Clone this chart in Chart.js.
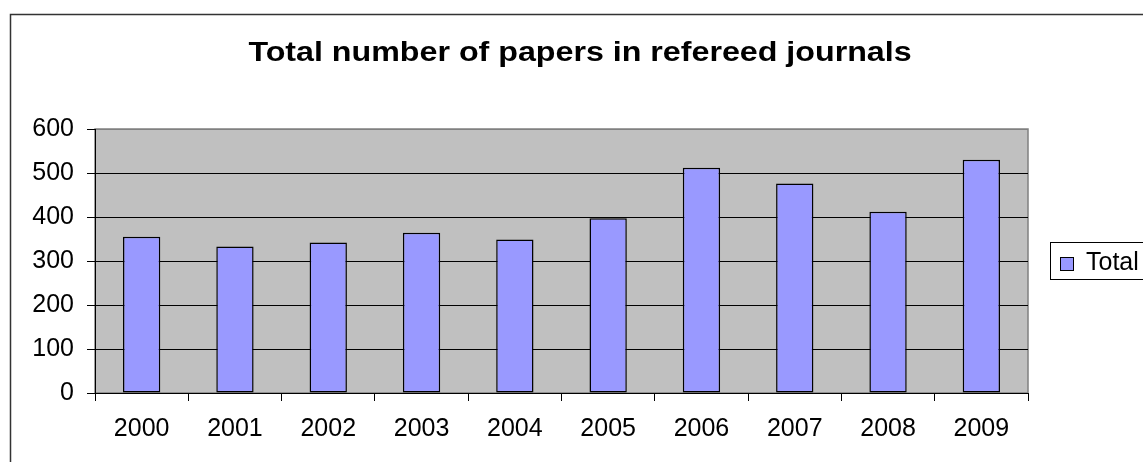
<!DOCTYPE html>
<html>
<head>
<meta charset="utf-8">
<title>Total number of papers in refereed journals</title>
<script src="https://cdn.jsdelivr.net/npm/chart.js@4"></script>
<style>
  body { margin: 0; background: #fff; }
  #wrap { width: 1143px; height: 462px; overflow: hidden; position: relative; }
  #wrap canvas { position: absolute; left: 0; top: 0; }
</style>
</head>
<body>
<div id="wrap">
  <canvas id="myChart" width="1160" height="480"></canvas>
</div>
<script>
const years = ["2000", "2001", "2002", "2003", "2004", "2005", "2006", "2007", "2008", "2009"];
const totals = [355, 333, 342, 364, 349, 397, 512, 476, 412, 530];
const yTicks = [0, 100, 200, 300, 400, 500, 600];
const chartTitle = "Total number of papers in refereed journals";
const seriesName = "Total";

const FONT = "'Liberation Sans', Arial, sans-serif";
const ctx = document.getElementById("myChart").getContext("2d");

// frame, plot background, title and the boxed legend on the right
const decor = {
  id: "decor",
  beforeDraw(chart) {
    const c = chart.ctx;
    const a = chart.chartArea;
    c.save();
    c.fillStyle = "#fff";
    c.fillRect(0, 0, chart.width, chart.height);
    c.strokeStyle = "#333";
    c.lineWidth = 1.5;
    c.strokeRect(10.5, 14.5, 1300, 600);
    c.fillStyle = "#c0c0c0";
    c.fillRect(a.left, a.top, a.right - a.left, a.bottom - a.top);
    c.strokeStyle = "#808080";
    c.lineWidth = 1.5;
    c.strokeRect(a.left, a.top, a.right - a.left, a.bottom - a.top);
    // title is set a little wide
    c.fillStyle = "#000";
    c.font = "bold 28px " + FONT;
    c.textAlign = "center";
    c.textBaseline = "alphabetic";
    c.translate(580, 61);
    c.scale(1.15, 1);
    c.fillText(chartTitle, 0, 0);
    c.restore();
  },
  afterDraw(chart) {
    const c = chart.ctx;
    const ds = chart.data.datasets[0];
    c.save();
    c.fillStyle = "#fff";
    c.fillRect(1050, 242, 140, 38);
    c.strokeStyle = "#000";
    c.lineWidth = 1;
    c.strokeRect(1050.5, 242.5, 140, 37);
    c.fillStyle = ds.backgroundColor;
    c.fillRect(1060.5, 257.5, 13, 13);
    c.strokeStyle = "#000";
    c.strokeRect(1060.5, 257.5, 13, 13);
    c.fillStyle = "#000";
    c.font = "25px " + FONT;
    c.textAlign = "left";
    c.textBaseline = "middle";
    c.fillText(ds.label, 1086, 263);
    c.restore();
  }
};

new Chart(ctx, {
  type: "bar",
  data: {
    labels: years,
    datasets: [{
      label: seriesName,
      data: totals,
      backgroundColor: "#9999ff",
      borderColor: "#000",
      borderWidth: 1.5,
      borderSkipped: false,
      barPercentage: 0.4,
      categoryPercentage: 1
    }]
  },
  options: {
    responsive: false,
    animation: false,
    events: [],
    layout: { padding: { top: 129, right: 132, left: 0, bottom: 0 } },
    plugins: {
      legend: { display: false },
      title: { display: false },
      tooltip: { enabled: false }
    },
    scales: {
      x: {
        offset: true,
        grid: {
          offset: true,
          drawOnChartArea: false,
          color: "#000",
          tickLength: 8
        },
        border: { color: "#000", width: 1 },
        ticks: { color: "#000", font: { family: FONT, size: 25 }, padding: 13 },
        afterFit(scale) { scale.height = 87; }
      },
      y: {
        min: 0,
        max: 600,
        afterBuildTicks(scale) { scale.ticks = yTicks.map(v => ({ value: v })); },
        grid: {
          color: (c) => (c.tick && c.tick.value === 600 ? "#808080" : "#000"),
          tickColor: "#000",
          tickLength: 8
        },
        border: { color: "#000", width: 1 },
        ticks: { color: "#000", font: { family: FONT, size: 25 }, padding: 13 },
        afterFit(scale) { scale.width = 95; }
      }
    }
  },
  plugins: [decor]
});
</script>
</body>
</html>
